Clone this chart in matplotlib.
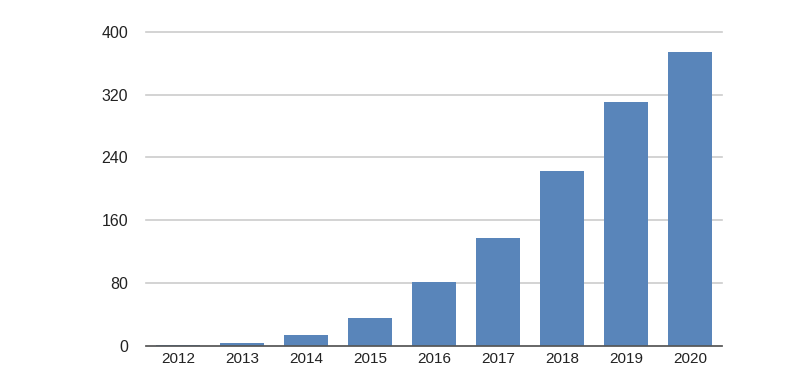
import matplotlib.pyplot as plt

years = ["2012", "2013", "2014", "2015", "2016", "2017", "2018", "2019", "2020"]
values = [1, 4, 14, 36, 81, 138, 223, 311, 374]
y_ticks = [0, 80, 160, 240, 320, 400]

plt.rcParams["font.family"] = ["Liberation Sans", "DejaVu Sans"]

fig = plt.figure(figsize=(8, 3.7), dpi=100)
ax = fig.add_axes([0.1825, 0.065, 0.72, 0.849])

ax.bar(range(len(years)), values, width=0.7, color="#5985BA", zorder=3)

ax.set_xlim(-0.5, len(years) - 0.5)
ax.set_ylim(0, 400)
ax.set_yticks(y_ticks)
ax.set_xticks(range(len(years)))
ax.set_xticklabels(years)

ax.grid(axis="y", color="#cccccc", linewidth=1.2, zorder=0)
for line in ax.get_ygridlines():
    line.set_clip_on(False)
for side in ["left", "right", "top"]:
    ax.spines[side].set_visible(False)
ax.spines["bottom"].set_color("#555555")
ax.spines["bottom"].set_linewidth(1.2)
ax.spines["bottom"].set_zorder(4)

ax.tick_params(axis="y", length=0, pad=13, labelsize=11.5, labelcolor="#222222")
# reference crops the year labels at the bottom edge; keep them just inside
ax.tick_params(axis="x", length=0, pad=4, labelsize=11, labelcolor="#222222")

fig.savefig("out.png", dpi=100)
